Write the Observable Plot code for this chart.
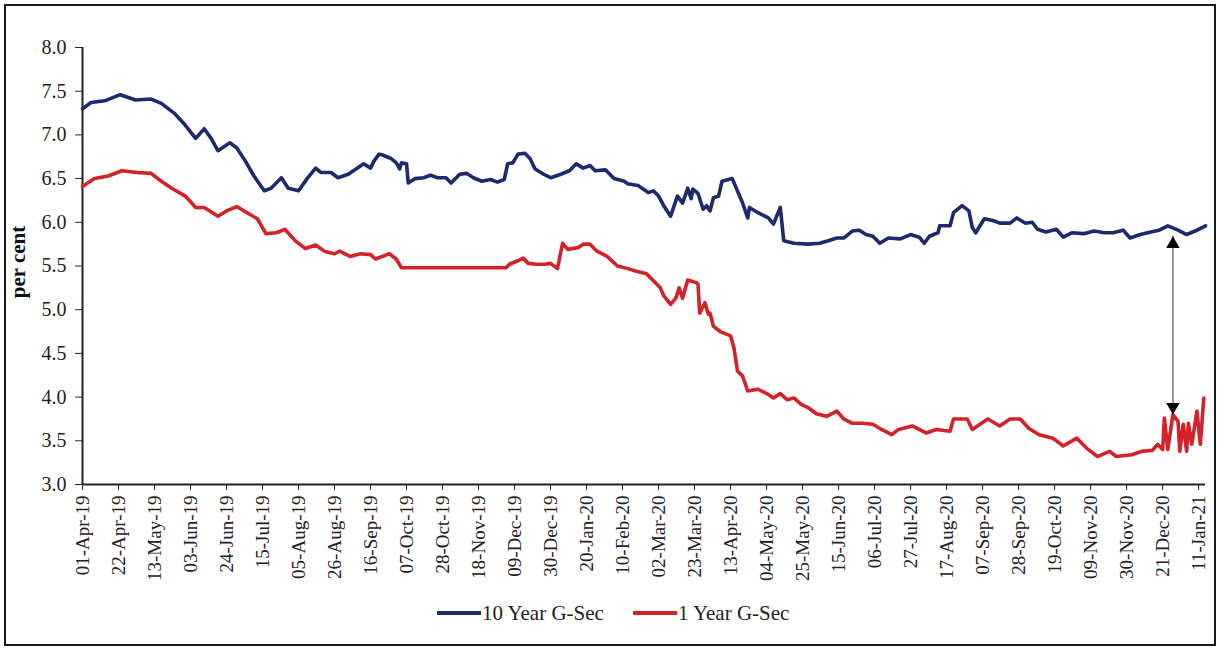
<!DOCTYPE html>
<html>
<head>
<meta charset="utf-8">
<script src="https://cdn.jsdelivr.net/npm/d3@7"></script>
<script src="https://cdn.jsdelivr.net/npm/@observablehq/plot@0.6"></script>
<style>
html, body { margin: 0; padding: 0; background: #fff; }
#wrap { position: relative; width: 1219px; height: 649px; overflow: hidden; font-family: 'Liberation Serif', 'Times New Roman', serif; }
#frame { position: absolute; left: 4px; top: 4px; width: 1208px; height: 638px; border: 2px solid #1a1a1a; }
#chart { position: absolute; left: 0; top: 0; }
#ylabel { position: absolute; left: 18px; top: 262px; transform: translate(-50%, -50%) rotate(-90deg); font-size: 21px; font-weight: bold; color: #111; white-space: nowrap; line-height: 1; }
#legend { position: absolute; top: 600px; left: 0; width: 1219px; height: 26px; }
.item { position: absolute; top: 0; height: 26px; display: flex; align-items: center; font-size: 21px; color: #222; white-space: nowrap; }
.swatch { display: inline-block; width: 44px; height: 4px; margin-right: 1px; }
</style>
</head>
<body>
<div id="wrap">
  <div id="frame"></div>
  <div id="chart"></div>
  <div id="ylabel"></div>
  <div id="legend"></div>
</div>
<script>
// ---- Data ----
const seriesNames = ["10 Year G-Sec", "1 Year G-Sec"];
const seriesColors = ["#1d2a6d", "#d3222a"];
const yLabel = "per cent";

const xTickLabels = ["01-Apr-19","22-Apr-19","13-May-19","03-Jun-19","24-Jun-19","15-Jul-19","05-Aug-19","26-Aug-19","16-Sep-19","07-Oct-19","28-Oct-19","18-Nov-19","09-Dec-19","30-Dec-19","20-Jan-20","10-Feb-20","02-Mar-20","23-Mar-20","13-Apr-20","04-May-20","25-May-20","15-Jun-20","06-Jul-20","27-Jul-20","17-Aug-20","07-Sep-20","28-Sep-20","19-Oct-20","09-Nov-20","30-Nov-20","21-Dec-20","11-Jan-21"];
const yTicks = [3.0, 3.5, 4.0, 4.5, 5.0, 5.5, 6.0, 6.5, 7.0, 7.5, 8.0];
const xDomain = ["2019-04-01", "2021-01-15"];
const yDomain = [3, 8];

const dates10 = ["2019-04-01","2019-04-06","2019-04-14","2019-04-23","2019-05-02","2019-05-11","2019-05-17","2019-05-25","2019-05-31",
"2019-06-06","2019-06-11","2019-06-15","2019-06-19","2019-06-26","2019-06-30",
"2019-07-05","2019-07-10","2019-07-16","2019-07-20","2019-07-26","2019-07-30",
"2019-08-05","2019-08-10","2019-08-15","2019-08-18","2019-08-24","2019-08-28",
"2019-09-03","2019-09-06","2019-09-12","2019-09-16","2019-09-18","2019-09-21","2019-09-23","2019-09-28",
"2019-10-01","2019-10-03","2019-10-04","2019-10-07","2019-10-08","2019-10-12","2019-10-17","2019-10-21","2019-10-25","2019-10-30",
"2019-11-02","2019-11-07","2019-11-11","2019-11-15","2019-11-20","2019-11-25","2019-11-29",
"2019-12-03","2019-12-05","2019-12-08","2019-12-11","2019-12-15","2019-12-18","2019-12-21","2019-12-26","2019-12-30",
"2020-01-05","2020-01-10","2020-01-14","2020-01-18","2020-01-22","2020-01-25","2020-01-31",
"2020-02-05","2020-02-11","2020-02-13","2020-02-19","2020-02-22","2020-02-25","2020-02-28",
"2020-03-02","2020-03-05","2020-03-09","2020-03-13","2020-03-16","2020-03-19","2020-03-21","2020-03-22","2020-03-25","2020-03-28","2020-03-30",
"2020-04-01","2020-04-03","2020-04-06","2020-04-08","2020-04-14","2020-04-17","2020-04-20","2020-04-23","2020-04-24","2020-04-29",
"2020-05-05","2020-05-08","2020-05-12","2020-05-14","2020-05-20","2020-05-28",
"2020-06-04","2020-06-09","2020-06-14","2020-06-18","2020-06-23","2020-06-27",
"2020-07-01","2020-07-05","2020-07-09","2020-07-14","2020-07-21","2020-07-27",
"2020-08-01","2020-08-04","2020-08-07","2020-08-12","2020-08-13","2020-08-19","2020-08-21","2020-08-26","2020-08-30",
"2020-09-01","2020-09-03","2020-09-08","2020-09-13","2020-09-17","2020-09-23","2020-09-27",
"2020-10-02","2020-10-06","2020-10-09","2020-10-14","2020-10-20","2020-10-24","2020-10-29",
"2020-11-05","2020-11-11","2020-11-17","2020-11-22","2020-11-28",
"2020-12-02","2020-12-08","2020-12-14","2020-12-19","2020-12-24","2020-12-30",
"2021-01-04","2021-01-09","2021-01-15"];
const yield10 = [7.30,7.37,7.39,7.46,7.40,7.41,7.36,7.24,7.11,
6.96,7.07,6.96,6.82,6.91,6.85,
6.70,6.53,6.36,6.39,6.51,6.39,
6.36,6.50,6.62,6.57,6.57,6.51,
6.55,6.59,6.67,6.62,6.70,6.78,6.77,6.73,
6.68,6.61,6.68,6.67,6.45,6.50,6.51,6.54,6.51,6.51,
6.45,6.55,6.56,6.51,6.47,6.49,6.46,
6.49,6.67,6.68,6.78,6.79,6.73,6.61,6.55,6.51,
6.55,6.59,6.67,6.62,6.65,6.59,6.60,
6.50,6.47,6.44,6.42,6.38,6.34,6.36,
6.30,6.19,6.07,6.30,6.22,6.39,6.27,6.38,6.33,6.15,6.19,
6.13,6.28,6.30,6.47,6.50,6.36,6.22,6.05,6.17,6.11,
6.05,5.98,6.17,5.79,5.76,5.75,
5.76,5.79,5.82,5.82,5.90,5.91,
5.86,5.84,5.76,5.82,5.81,5.86,
5.83,5.76,5.84,5.88,5.96,5.96,6.11,6.19,6.13,
5.94,5.88,6.04,6.02,5.99,5.99,6.05,
5.99,6.00,5.92,5.89,5.92,5.83,5.88,
5.87,5.90,5.88,5.88,5.91,
5.82,5.86,5.89,5.91,5.96,5.91,
5.86,5.90,5.96];

const dates1 = ["2019-04-01","2019-04-08","2019-04-16","2019-04-24",
"2019-05-03","2019-05-11","2019-05-17","2019-05-23","2019-05-31",
"2019-06-06","2019-06-11","2019-06-19","2019-06-24","2019-06-30",
"2019-07-05","2019-07-12","2019-07-17","2019-07-23","2019-07-28",
"2019-08-03","2019-08-09","2019-08-15","2019-08-20","2019-08-26","2019-08-29",
"2019-09-04","2019-09-10","2019-09-16","2019-09-19","2019-09-23","2019-09-27",
"2019-10-01","2019-10-04",
"2019-12-04","2019-12-06","2019-12-11","2019-12-14","2019-12-17","2019-12-22","2019-12-27","2019-12-30",
"2020-01-03","2020-01-06","2020-01-09","2020-01-15","2020-01-18","2020-01-22","2020-01-26",
"2020-02-01","2020-02-07","2020-02-13","2020-02-18","2020-02-24","2020-02-28",
"2020-03-03","2020-03-05","2020-03-09","2020-03-12","2020-03-14","2020-03-16","2020-03-19","2020-03-24","2020-03-25","2020-03-26","2020-03-29","2020-03-31",
"2020-04-01","2020-04-03","2020-04-07","2020-04-13","2020-04-15","2020-04-17","2020-04-20","2020-04-23","2020-04-29",
"2020-05-05","2020-05-08","2020-05-12","2020-05-16","2020-05-20","2020-05-24","2020-05-29",
"2020-06-02","2020-06-08","2020-06-14","2020-06-18","2020-06-23","2020-06-29",
"2020-07-05","2020-07-10","2020-07-16","2020-07-20","2020-07-28",
"2020-08-05","2020-08-11","2020-08-19","2020-08-21","2020-08-29",
"2020-09-01","2020-09-10","2020-09-17","2020-09-23","2020-09-29",
"2020-10-04","2020-10-10","2020-10-18","2020-10-24",
"2020-11-01","2020-11-07","2020-11-13","2020-11-20","2020-11-24",
"2020-12-03","2020-12-09","2020-12-15","2020-12-18","2020-12-21","2020-12-22","2020-12-24","2020-12-27","2020-12-30","2020-12-31",
"2021-01-02","2021-01-04","2021-01-05","2021-01-07","2021-01-10","2021-01-12","2021-01-14"];
const yield1 = [6.41,6.50,6.53,6.59,
6.57,6.56,6.47,6.39,6.30,
6.17,6.17,6.07,6.13,6.18,
6.12,6.04,5.87,5.88,5.92,
5.79,5.70,5.74,5.67,5.64,5.67,
5.61,5.64,5.63,5.58,5.61,5.64,
5.58,5.48,
5.48,5.52,5.56,5.59,5.53,5.52,5.52,5.53,
5.47,5.76,5.69,5.71,5.75,5.75,5.67,
5.61,5.50,5.47,5.44,5.41,5.33,
5.25,5.16,5.06,5.13,5.25,5.13,5.34,5.31,5.29,4.96,5.08,4.95,
4.96,4.81,4.75,4.70,4.56,4.30,4.24,4.07,4.09,
4.03,3.99,4.04,3.97,3.99,3.92,3.87,
3.81,3.78,3.84,3.75,3.70,3.70,
3.69,3.63,3.57,3.63,3.67,
3.59,3.63,3.61,3.75,3.75,
3.63,3.75,3.67,3.75,3.75,
3.64,3.57,3.53,3.44,
3.53,3.41,3.32,3.38,3.32,
3.34,3.38,3.39,3.46,3.40,3.76,3.40,3.80,3.72,3.38,
3.69,3.38,3.70,3.46,3.84,3.46,3.99];

// spread annotation (double-headed arrow)
const arrowDate = ["2020-12-27"];
const arrowTop = [5.84];
const arrowBottom = [3.80];

// ---- Build tables ----
const parseISO = d3.utcParse("%Y-%m-%d");
const parseTick = d3.utcParse("%d-%b-%y");
const data10 = dates10.map((d, i) => ({date: parseISO(d), value: yield10[i]}));
const data1 = dates1.map((d, i) => ({date: parseISO(d), value: yield1[i]}));
const xTickDates = xTickLabels.map(parseTick);
const arrowData = arrowDate.map((d, i) => ({date: parseISO(d), top: arrowTop[i], bottom: arrowBottom[i]}));
const x0 = parseISO(xDomain[0]);

const chart = Plot.plot({
  width: 1219,
  height: 600,
  marginLeft: 82,
  marginTop: 47,
  marginRight: 14,
  marginBottom: 116,
  style: {fontFamily: "'Liberation Serif', 'Times New Roman', serif", fontSize: "20px", color: "#222", background: "transparent", overflow: "visible"},
  x: {type: "utc", domain: xDomain.map(parseISO)},
  y: {domain: yDomain},
  marks: [
    Plot.axisY({ticks: yTicks, tickFormat: d3.format(".1f"), tickSize: 7, tickPadding: 9, fontSize: 20, label: null}),
    Plot.axisX({ticks: xTickDates, tickFormat: d3.utcFormat("%d-%b-%y"), tickRotate: -90, tickSize: 6, tickPadding: 5, fontSize: 19, label: null}),
    Plot.ruleY([yDomain[0]], {stroke: "#222", strokeWidth: 2}),
    Plot.ruleX([x0], {stroke: "#222", strokeWidth: 2}),
    Plot.line(data10, {x: "date", y: "value", stroke: seriesColors[0], strokeWidth: 3.6, strokeLinejoin: "round"}),
    Plot.line(data1, {x: "date", y: "value", stroke: seriesColors[1], strokeWidth: 3.6, strokeLinejoin: "round"}),
    Plot.ruleX(arrowData, {x: "date", y1: "top", y2: "bottom", stroke: "#555", strokeWidth: 1.2}),
    Plot.dot(arrowData, {x: "date", y: "top", symbol: "triangle", r: 5, fill: "#000", stroke: "none", dy: 7.8}),
    Plot.dot(arrowData, {x: "date", y: "bottom", symbol: "triangle", r: 5, fill: "#000", stroke: "none", dy: -7.8, rotate: 180})
  ]
});
document.getElementById("chart").appendChild(chart);
document.getElementById("ylabel").textContent = yLabel;

// ---- Legend ----
const legend = document.getElementById("legend");
const legendLeft = [437, 633];
seriesNames.forEach((name, i) => {
  const item = document.createElement("div");
  item.className = "item";
  item.style.left = legendLeft[i] + "px";
  const sw = document.createElement("span");
  sw.className = "swatch";
  sw.style.background = seriesColors[i];
  item.appendChild(sw);
  item.appendChild(document.createTextNode(name));
  legend.appendChild(item);
});
</script>
</body>
</html>
